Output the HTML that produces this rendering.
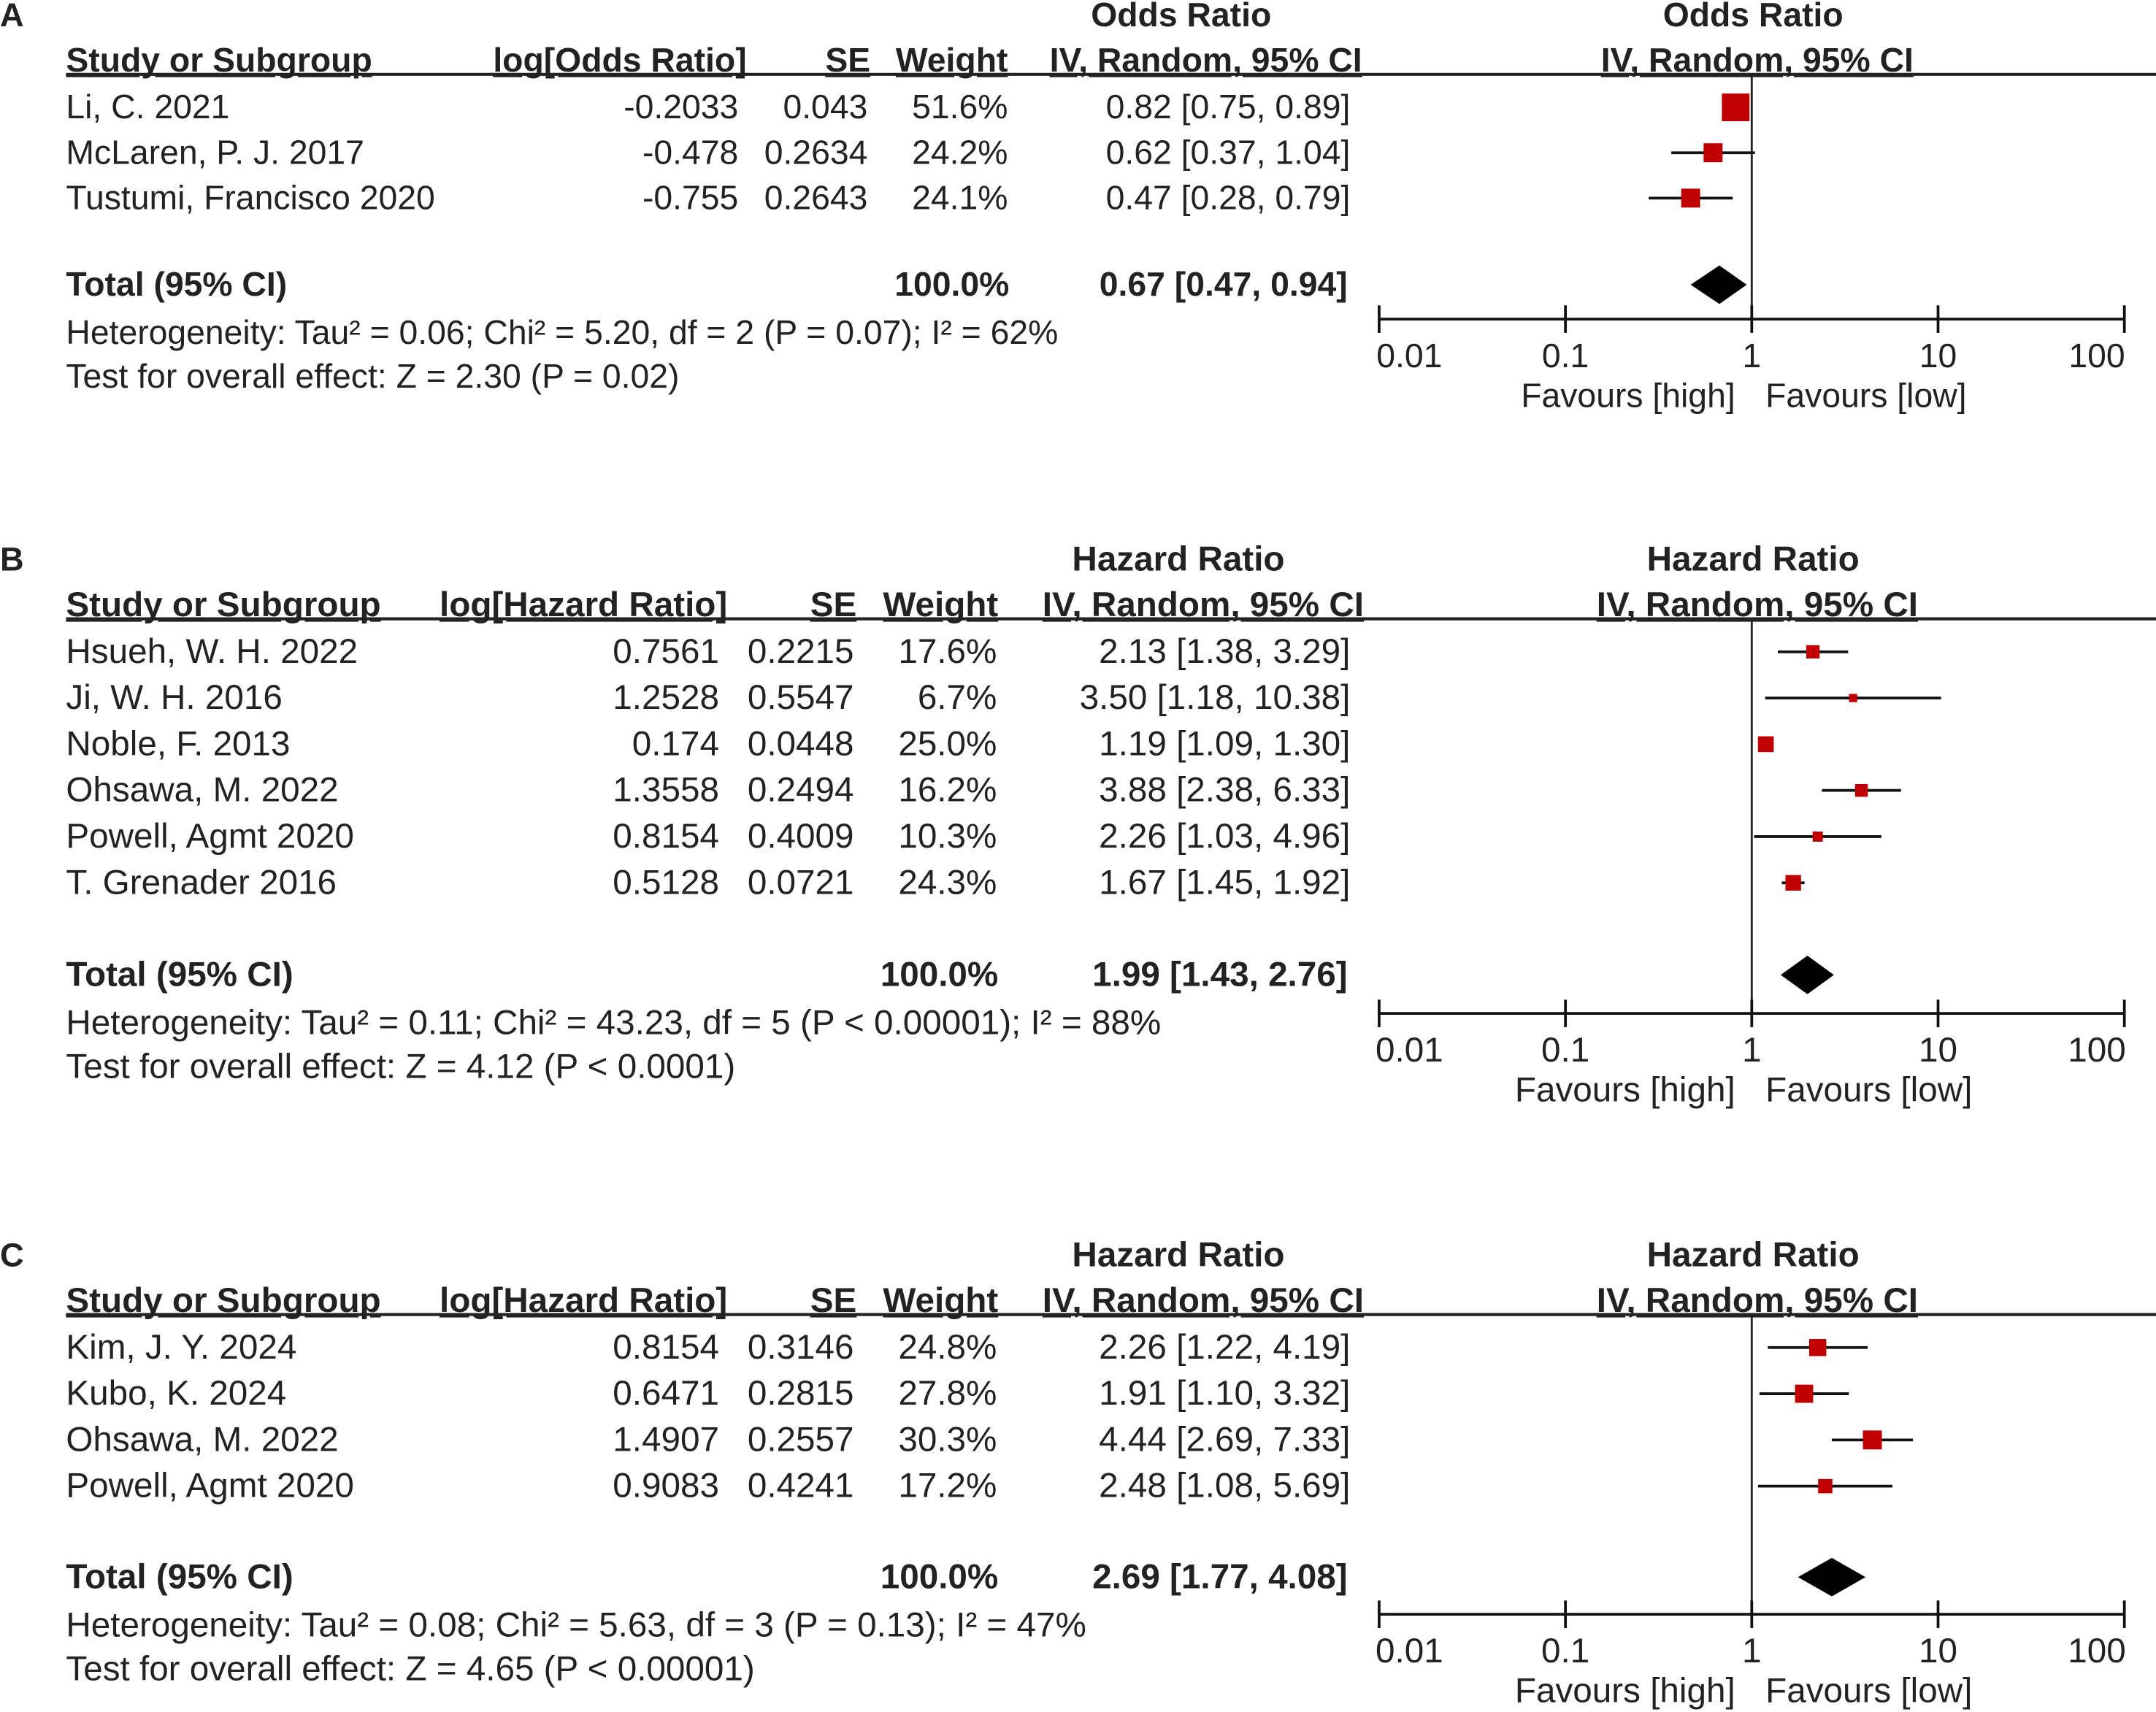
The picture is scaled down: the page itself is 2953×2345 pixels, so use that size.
<!DOCTYPE html>
<html><head><meta charset="utf-8"><style>
html,body{margin:0;padding:0;background:#fff}
svg{display:block}
text{font-family:"Liberation Sans",Arial,sans-serif;fill:#222}
.b{font-weight:bold}
</style></head><body>
<svg id="svg" width="2953" height="2345" viewBox="0 0 1568 1245" xmlns="http://www.w3.org/2000/svg"></svg>
<script>
// Panel A data
const studiesA = ["Li, C. 2021","McLaren, P. J. 2017","Tustumi, Francisco 2020"];
const logA = ["-0.2033","-0.478","-0.755"];
const seA = ["0.043","0.2634","0.2643"];
const weightA = [51.6,24.2,24.1];
const estA = [0.82,0.62,0.47];
const lowA = [0.75,0.37,0.28];
const highA = [0.89,1.04,0.79];
const totalA = [0.67,0.47,0.94];
// Panel B data
const studiesB = ["Hsueh, W. H. 2022","Ji, W. H. 2016","Noble, F. 2013","Ohsawa, M. 2022","Powell, Agmt 2020","T. Grenader 2016"];
const logB = ["0.7561","1.2528","0.174","1.3558","0.8154","0.5128"];
const seB = ["0.2215","0.5547","0.0448","0.2494","0.4009","0.0721"];
const weightB = [17.6,6.7,25.0,16.2,10.3,24.3];
const estB = [2.13,3.50,1.19,3.88,2.26,1.67];
const lowB = [1.38,1.18,1.09,2.38,1.03,1.45];
const highB = [3.29,10.38,1.30,6.33,4.96,1.92];
const totalB = [1.99,1.43,2.76];
// Panel C data
const studiesC = ["Kim, J. Y. 2024","Kubo, K. 2024","Ohsawa, M. 2022","Powell, Agmt 2020"];
const logC = ["0.8154","0.6471","1.4907","0.9083"];
const seC = ["0.3146","0.2815","0.2557","0.4241"];
const weightC = [24.8,27.8,30.3,17.2];
const estC = [2.26,1.91,4.44,2.48];
const lowC = [1.22,1.10,2.69,1.08];
const highC = [4.19,3.32,7.33,5.69];
const totalC = [2.69,1.77,4.08];
const tickVals = [0.01,0.1,1,10,100];
const tickLabels = ["0.01","0.1","1","10","100"];

const NS="http://www.w3.org/2000/svg";
const svg=document.getElementById('svg');
let FS=24.6;
function mk(tag,attrs,parent){const e=document.createElementNS(NS,tag);for(const k in attrs)e.setAttribute(k,attrs[k]);(parent||svg).appendChild(e);return e;}
function txt(s,x,y,anchor,bold,size,parent){const t=mk('text',{x:x,y:y,'text-anchor':anchor||'start','font-size':size||FS},parent);if(bold)t.setAttribute('class','b');t.textContent=s;return t;}
const X0=1003,DEC=135.5;
function xs(v){return X0+(Math.log10(v)+2)*DEC;}
const fmt=v=>v.toFixed(2);

function panel(o){
  FS=o.fs;
  const g=mk('g',{});
  
  
  const y0=o.y0;
  let t=txt(o.letter,0,y0+19,'start',true,24,g);
  
  t=txt(o.measure,o.ciCx-18,y0+19,'middle',true,FS,g);
  
  t=txt(o.measure,1275,y0+19,'middle',true,FS,g);
  
  const hy=y0+52;
  const hdr=[["Study or Subgroup",48,'start'],[o.logHdr,o.logHx,'end'],["SE",o.seHx,'end'],["Weight",o.wHx,'end'],["IV, Random, 95% CI",o.ciCx,'middle'],["IV, Random, 95% CI",1278,'middle']];
  hdr.forEach(h=>{const e=txt(h[0],h[1],hy,h[2],true,FS,g);e.setAttribute('text-decoration','underline');
    });
  let l=mk('line',{x1:48,x2:1568,y1:hy+2,y2:hy+2,stroke:'#222','stroke-width':2.2},g);
  
  const axY=o.axY;
  l=mk('line',{x1:xs(1),x2:xs(1),y1:hy+2,y2:axY,stroke:'#222','stroke-width':1.5},g);
  
  o.studies.forEach((s,i)=>{
    const by=y0+86+i*o.rowH, cy=by-8;
    let e=txt(s,48,by,'start',false,FS,g);
    e=txt(o.log[i],o.logX,by,'end',false,FS,g);
    e=txt(o.se[i],o.seX,by,'end',false,FS,g);
    e=txt(o.w[i].toFixed(1)+'%',o.wX,by,'end',false,FS,g);
    e=txt(fmt(o.est[i])+' ['+fmt(o.lo[i])+', '+fmt(o.hi[i])+']',982,by,'end',false,FS,g);
    const ln=mk('line',{x1:xs(o.lo[i]),x2:xs(o.hi[i]),y1:cy,y2:cy,stroke:'#111','stroke-width':2},g);
    
    const sz=o.k*Math.sqrt(o.w[i]);
    const r=mk('rect',{x:xs(o.est[i])-sz/2,y:cy-sz/2,width:sz,height:sz,fill:'#c00000'},g);
    
  });
  const ty=o.totY;
  let e=txt('Total (95% CI)',48,ty,'start',true,FS,g);
  e=txt('100.0%',o.wX+1,ty,'end',true,FS,g);
  e=txt(fmt(o.tot[0])+' ['+fmt(o.tot[1])+', '+fmt(o.tot[2])+']',980,ty,'end',true,FS,g);
  const dy=ty-8;
  const d=mk('polygon',{points:`${xs(o.tot[1])},${dy} ${xs(o.tot[0])},${dy-14} ${xs(o.tot[2])},${dy} ${xs(o.tot[0])},${dy+14}`,fill:'#000'},g);
  
  e=txt(o.het,48,ty+35,'start',false,FS,g);
  e=txt(o.test,48,ty+67,'start',false,FS,g);
  l=mk('line',{x1:xs(0.01),x2:xs(100),y1:axY,y2:axY,stroke:'#111','stroke-width':2},g);
  
  tickVals.forEach((v,i)=>{
    const tk=mk('line',{x1:xs(v),x2:xs(v),y1:axY-10,y2:axY+10,stroke:'#111','stroke-width':2},g);
    
    const tl=txt(tickLabels[i],xs(v)+(i==0?22:i==4?-20:0),axY+35,'middle',false,FS,g);
    
  });
  e=txt('Favours [high]',1262,axY+64,'end',false,FS,g);
  e=txt('Favours [low]',1284,axY+64,'start',false,FS,g);
}
panel({name:'panel-a',letter:'A',y0:0,fs:24.6,measure:'Odds Ratio',ciCx:877,logHdr:'log[Odds Ratio]',logHx:543,seHx:633,wHx:733,
  studies:studiesA,log:logA,se:seA,w:weightA,est:estA,lo:lowA,hi:highA,tot:totalA,rowH:33,logX:537,seX:631,wX:733,k:2.8,
  totY:215,axY:232,het:'Heterogeneity: Tau² = 0.06; Chi² = 5.20, df = 2 (P = 0.07); I² = 62%',test:'Test for overall effect: Z = 2.30 (P = 0.02)'});
panel({name:'panel-b',letter:'B',y0:396,fs:25.3,measure:'Hazard Ratio',ciCx:875,logHdr:'log[Hazard Ratio]',logHx:529,seHx:623,wHx:726,
  studies:studiesB,log:logB,se:seB,w:weightB,est:estB,lo:lowB,hi:highB,tot:totalB,rowH:33.6,logX:523,seX:621,wX:725,k:2.3,
  totY:717,axY:737,het:'Heterogeneity: Tau² = 0.11; Chi² = 43.23, df = 5 (P < 0.00001); I² = 88%',test:'Test for overall effect: Z = 4.12 (P < 0.0001)'});
panel({name:'panel-c',letter:'C',y0:902,fs:25.3,measure:'Hazard Ratio',ciCx:875,logHdr:'log[Hazard Ratio]',logHx:529,seHx:623,wHx:726,
  studies:studiesC,log:logC,se:seC,w:weightC,est:estC,lo:lowC,hi:highC,tot:totalC,rowH:33.6,logX:523,seX:621,wX:725,k:2.5,
  totY:1155,axY:1174,het:'Heterogeneity: Tau² = 0.08; Chi² = 5.63, df = 3 (P = 0.13); I² = 47%',test:'Test for overall effect: Z = 4.65 (P < 0.00001)'});
</script>
</body></html>
